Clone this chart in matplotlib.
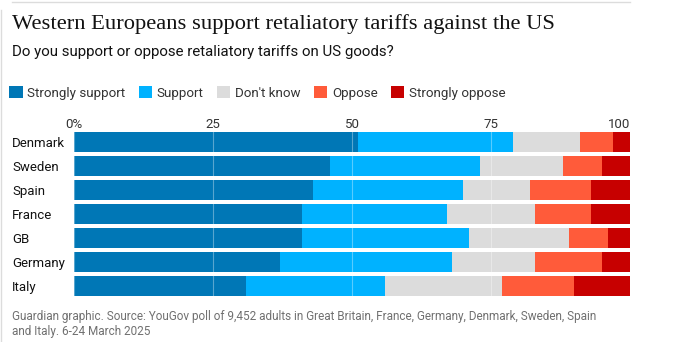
import numpy as np
import matplotlib
matplotlib.use("Agg")
import matplotlib.pyplot as plt
from matplotlib.patches import Patch

countries = ["Denmark", "Sweden", "Spain", "France", "GB", "Germany", "Italy"]
strongly_support = [51, 46, 43, 41, 41, 37, 31]
support = [28, 27, 27, 26, 30, 31, 25]
dont_know = [12, 15, 12, 16, 18, 15, 21]
oppose = [6, 7, 11, 10, 7, 12, 13]
strongly_oppose = [3, 5, 7, 7, 4, 5, 10]

answers = ["Strongly support", "Support", "Don't know", "Oppose", "Strongly oppose"]
colors = ["#0077b6", "#00b2ff", "#dcdcdc", "#ff5b3a", "#c70000"]
tick_vals = [0, 25, 50, 75, 100]
tick_labels = ["0%", "25", "50", "75", "100"]

W, H = 683, 342
plt.rcParams["font.family"] = ["Roboto", "DejaVu Sans"]

fig = plt.figure(figsize=(W / 100, H / 100), dpi=100)
ax = fig.add_axes([74 / W, 1 - 298 / H, 556 / W, (298 - 129.7) / H])

y = np.arange(len(countries))
left = np.zeros(len(countries))
series = [strongly_support, support, dont_know, oppose, strongly_oppose]
for vals, col in zip(series, colors):
    ax.barh(y, vals, left=left, height=0.83, color=col, zorder=2)
    left += np.array(vals)

# faint gridlines over the bars
for gx in tick_vals[:-1]:
    ax.axvline(gx, color="white", alpha=0.35, lw=0.8, zorder=3)

ax.set_xlim(0, 100)
ax.set_ylim(len(countries) - 0.5, -0.5)
for s in ax.spines.values():
    s.set_visible(False)

ax.xaxis.tick_top()
ax.set_xticks(tick_vals, tick_labels)
ax.tick_params(axis="x", length=0, pad=-1, labelsize=9.5, labelcolor="#333333")
ax.get_xticklabels()[-1].set_horizontalalignment("right")

ax.set_yticks(y, countries)
ax.tick_params(axis="y", length=0, pad=44.6, labelsize=9.5, labelcolor="#121212")
for lbl in ax.get_yticklabels():
    lbl.set_horizontalalignment("left")

fig.text(12 / W, 1 - 29 / H, "Western Europeans support retaliatory tariffs against the US",
         family="Liberation Serif", fontsize=16.2, color="#121212", va="baseline")
fig.text(12 / W, 1 - 56 / H, "Do you support or oppose retaliatory tariffs on US goods?",
         fontsize=10.8, color="#121212", va="baseline")

handles = [Patch(facecolor=c, label=a) for a, c in zip(answers, colors)]
fig.legend(handles=handles, loc="center left", bbox_to_anchor=(4 / W, 1 - 93 / H), ncol=5,
           frameon=False, fontsize=9.6, handlelength=1.0, handleheight=1.0,
           handletextpad=0.35, columnspacing=1.0, labelcolor="#333333", borderaxespad=0)

footer = ["Guardian graphic. Source: YouGov poll of 9,452 adults in Great Britain, France, Germany, Denmark, Sweden, Spain",
          "and Italy. 6-24 March 2025"]
for i, line in enumerate(footer):
    fig.text(12 / W, 1 - (320 + 15 * i) / H, line, fontsize=8.5, color="#707070", va="baseline")

fig.add_artist(plt.Line2D([12 / W, 630 / W], [1 - 1.5 / H, 1 - 1.5 / H], color="#dcdcdc", lw=1))
fig.add_artist(plt.Line2D([0.5 / W, 0.5 / W], [0, 1 - 10 / H], color="#dcdcdc", lw=1))

fig.savefig("out.png", dpi=100)
